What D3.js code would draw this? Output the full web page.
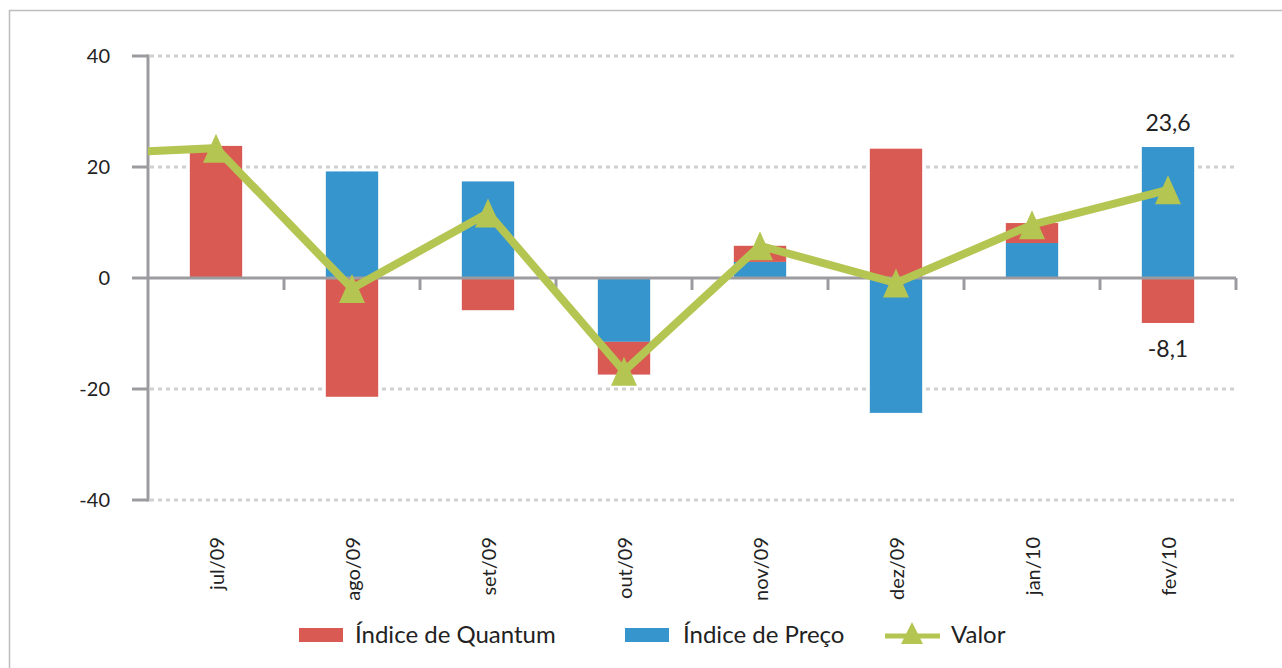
<!DOCTYPE html>
<html>
<head>
<meta charset="utf-8">
<script src="https://cdn.jsdelivr.net/npm/d3@7"></script>
<style>
  html, body { margin: 0; padding: 0; background: #fff; }
  svg { display: block; font-family: "Lato", "Open Sans", sans-serif; }
</style>
</head>
<body>
<div id="chart"></div>
<script>
// data
const months = ["jul/09", "ago/09", "set/09", "out/09", "nov/09", "dez/09", "jan/10", "fev/10"];
const quantum = [23.8, -21.4, -5.8, -5.9, 2.9, 23.3, 3.6, -8.1];   // Índice de Quantum (red)
const preco = [0, 19.2, 17.4, -11.5, 2.9, -24.3, 6.3, 23.6];       // Índice de Preço (blue)
const valor = [23.4, -1.9, 11.7, -16.8, 5.8, -0.9, 9.6, 15.9];     // Valor (line)
const valorPrev = 22.3;   // jun/09, only the stub of line entering on the left shows
const yTicks = [-40, -20, 0, 20, 40];
const labelled = { idx: 7, top: "23,6", bottom: "-8,1" };

const W = 1282, H = 668;
const margin = { left: 148, right: 46, top: 56, bottom: 168 };

const svg = d3.select("#chart").append("svg")
  .attr("width", W)
  .attr("height", H);

// outer frame (only top/left edges are inside the picture)
svg.append("rect")
  .attr("x", 9.5).attr("y", 10.5)
  .attr("width", W + 20).attr("height", H + 20)
  .attr("fill", "none")
  .attr("stroke", "#bdbdbd")
  .attr("stroke-width", 1.5);

const x = d3.scaleBand()
  .domain(months)
  .range([margin.left, W - margin.right])
  .paddingInner(0.615)
  .paddingOuter(0.3075);

const step = x.step();

const y = d3.scaleLinear()
  .domain([-40, 40])
  .range([H - margin.bottom, margin.top]);

// gridlines
svg.append("g")
  .selectAll("line")
  .data(yTicks.filter(d => d !== 0))
  .enter().append("line")
  .attr("x1", margin.left + 2)
  .attr("x2", W - margin.right)
  .attr("y1", d => y(d))
  .attr("y2", d => y(d))
  .attr("stroke", "#d0d0d0")
  .attr("stroke-width", 3)
  .attr("stroke-dasharray", "4,4");

// stacked bars: blue next to zero, red stacked after
const rows = months.map((m, i) => ({ month: m, preco: preco[i], quantum: quantum[i] }));
const stack = d3.stack()
  .keys(["preco", "quantum"])
  .offset(d3.stackOffsetDiverging);
const series = stack(rows);
const colors = { quantum: "#d95a52", preco: "#3595cc" };

svg.append("g")
  .selectAll("g")
  .data(series)
  .enter().append("g")
  .attr("fill", d => colors[d.key])
  .selectAll("rect")
  .data(d => d)
  .enter().append("rect")
  .attr("x", d => x(d.data.month))
  .attr("width", x.bandwidth())
  .attr("y", d => y(d[1]))
  .attr("height", d => Math.abs(y(d[0]) - y(d[1])));

// axes
const axisColor = "#9c9ca0";
const zeroY = y(0);
svg.append("line")
  .attr("x1", margin.left).attr("x2", margin.left)
  .attr("y1", y(40) - 1.5).attr("y2", y(-40) + 1.5)
  .attr("stroke", axisColor).attr("stroke-width", 3);

svg.append("g")
  .selectAll("line")
  .data(yTicks)
  .enter().append("line")
  .attr("x1", margin.left - 16)
  .attr("x2", margin.left)
  .attr("y1", d => y(d))
  .attr("y2", d => y(d))
  .attr("stroke", axisColor)
  .attr("stroke-width", 3);

svg.append("line")
  .attr("x1", margin.left).attr("x2", W - margin.right)
  .attr("y1", zeroY).attr("y2", zeroY)
  .attr("stroke", axisColor).attr("stroke-width", 3);

// category boundary ticks
svg.append("g")
  .selectAll("line")
  .data(d3.range(1, months.length + 1))
  .enter().append("line")
  .attr("x1", i => margin.left + i * step)
  .attr("x2", i => margin.left + i * step)
  .attr("y1", zeroY)
  .attr("y2", zeroY + 12)
  .attr("stroke", axisColor)
  .attr("stroke-width", 3);

// y labels
svg.append("g")
  .selectAll("text")
  .data(yTicks)
  .enter().append("text")
  .attr("x", 110)
  .attr("y", d => y(d))
  .attr("dy", "0.35em")
  .attr("text-anchor", "end")
  .attr("font-size", 20)
  .attr("fill", "#222")
  .text(d => d);

// x labels, rotated
svg.append("g")
  .selectAll("text")
  .data(months)
  .enter().append("text")
  .attr("transform", d => `translate(${x(d) + x.bandwidth() / 2 + 1},537) rotate(-90)`)
  .attr("dy", "0.35em")
  .attr("text-anchor", "end")
  .attr("font-size", 20)
  .attr("fill", "#222")
  .text(d => d);

// Valor line, clipped to plot so the jun/09 stub starts at the axis
svg.append("clipPath").attr("id", "plotClip")
  .append("rect")
  .attr("x", margin.left).attr("y", 0)
  .attr("width", W - margin.left - margin.right).attr("height", H);

const linePts = [[margin.left - step / 2, valorPrev]]
  .concat(months.map((m, i) => [x(m) + x.bandwidth() / 2, valor[i]]));

const green = "#b5c552";
svg.append("path")
  .datum(linePts)
  .attr("clip-path", "url(#plotClip)")
  .attr("fill", "none")
  .attr("stroke", green)
  .attr("stroke-width", 8)
  .attr("stroke-linejoin", "miter")
  .attr("d", d3.line().x(d => d[0]).y(d => y(d[1])));

function tri(cx, cy, w, h) {
  return `M${cx},${cy - h / 2}L${cx + w / 2},${cy + h / 2}L${cx - w / 2},${cy + h / 2}Z`;
}

svg.append("g")
  .selectAll("path")
  .data(months)
  .enter().append("path")
  .attr("d", (m, i) => tri(x(m) + x.bandwidth() / 2, y(valor[i]), 26, 29))
  .attr("fill", green);

// data labels on fev/10
const lm = months[labelled.idx];
const lx = x(lm) + x.bandwidth() / 2;
svg.append("text")
  .attr("x", lx).attr("y", y(preco[labelled.idx]) - 24)
  .attr("dy", "0.35em")
  .attr("text-anchor", "middle")
  .attr("font-size", 23).attr("fill", "#222")
  .text(labelled.top);
svg.append("text")
  .attr("x", lx).attr("y", y(quantum[labelled.idx]) + 26)
  .attr("dy", "0.35em")
  .attr("text-anchor", "middle")
  .attr("font-size", 23).attr("fill", "#222")
  .text(labelled.bottom);

// legend
const legend = svg.append("g").attr("font-size", 24).attr("fill", "#222");
const legY = 635;
legend.append("rect").attr("x", 299).attr("y", legY - 7).attr("width", 44).attr("height", 14).attr("fill", colors.quantum);
legend.append("text").attr("x", 355).attr("y", legY).attr("dy", "0.35em").text("Índice de Quantum");
legend.append("rect").attr("x", 625).attr("y", legY - 7).attr("width", 44).attr("height", 14).attr("fill", colors.preco);
legend.append("text").attr("x", 683).attr("y", legY).attr("dy", "0.35em").text("Índice de Preço");
legend.append("line").attr("x1", 885).attr("x2", 940).attr("y1", legY + 1).attr("y2", legY + 1)
  .attr("stroke", green).attr("stroke-width", 5);
legend.append("path").attr("d", tri(912, legY - 2, 22, 22)).attr("fill", green);
legend.append("text").attr("x", 951).attr("y", legY).attr("dy", "0.35em").text("Valor");
</script>
</body>
</html>
